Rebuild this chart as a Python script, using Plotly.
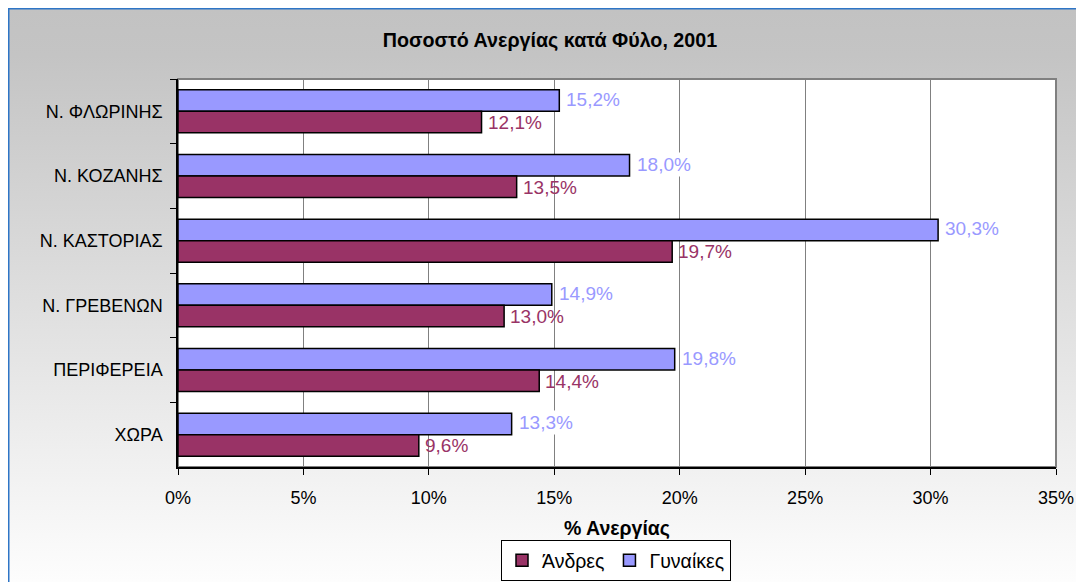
import base64
import plotly.graph_objects as go

# ---- data ----
categories = ["Ν. ΦΛΩΡΙΝΗΣ", "Ν. ΚΟΖΑΝΗΣ", "Ν. ΚΑΣΤΟΡΙΑΣ", "Ν. ΓΡΕΒΕΝΩΝ", "ΠΕΡΙΦΕΡΕΙΑ", "ΧΩΡΑ"]
women = [15.2, 18.0, 30.3, 14.9, 19.8, 13.3]
men = [12.1, 13.5, 19.7, 13.0, 14.4, 9.6]
x_ticks = [0, 5, 10, 15, 20, 25, 30, 35]
x_tick_labels = [f"{v}%" for v in x_ticks]

title_text = "Ποσοστό Ανεργίας κατά Φύλο, 2001"
x_title = "% Ανεργίας"
men_name = "Άνδρες"
women_name = "Γυναίκες"

# ---- style ----
OFF = 8  # page body margin
W, H = 1084 - OFF, 582 - OFF
# plot area in figure pixels (page pixels minus body offset)
L, R, T, B = 178 - OFF, 1056 - OFF, 79 - OFF, 467 - OFF
FONT = "Liberation Sans, Arial, sans-serif"
C_WOMEN = "#9999FF"
C_MEN = "#993366"


def px_x(p):
    return (p - OFF - L) / (R - L)


def px_y(p):
    return (B - (p - OFF)) / (B - T)


def fmt(v):
    return f"{v:.1f}".replace(".", ",") + "%"


fig = go.Figure()
fig.add_trace(go.Bar(
    y=categories, x=women, orientation="h", name=women_name,
    marker=dict(color=C_WOMEN, line=dict(color="black", width=1.5)),
    legendrank=2, hoverinfo="skip",
))
fig.add_trace(go.Bar(
    y=categories, x=men, orientation="h", name=men_name,
    marker=dict(color=C_MEN, line=dict(color="black", width=1.5)),
    legendrank=1, hoverinfo="skip",
))

annotations = []
for c, v in zip(categories, men):
    annotations.append(dict(
        x=v, y=c, xref="x", yref="y", text=fmt(v), showarrow=False,
        xanchor="left", yanchor="middle", xshift=5, yshift=-11,
        font=dict(family=FONT, size=19, color=C_MEN), borderpad=0,
    ))
for c, v in zip(categories, women):
    annotations.append(dict(
        x=v, y=c, xref="x", yref="y", text=fmt(v), showarrow=False,
        xanchor="left", yanchor="middle", xshift=5, yshift=12,
        font=dict(family=FONT, size=19, color=C_WOMEN), bgcolor="white", borderpad=1,
    ))
annotations.append(dict(
    x=0.5, y=px_y(528), xref="paper", yref="paper", text=f"<b>{x_title}</b>",
    showarrow=False, xanchor="center", yanchor="middle",
    font=dict(family=FONT, size=19.5, color="black"),
))

svg = ('<svg xmlns="http://www.w3.org/2000/svg" width="100" height="100" viewBox="0 0 100 100" '
       'preserveAspectRatio="none"><defs><linearGradient id="g" x1="0" y1="0" x2="0" y2="1">'
       '<stop offset="0" stop-color="#C2C2C2"/><stop offset="0.08" stop-color="#C4C4C4"/>'
       '<stop offset="1" stop-color="#FFFFFF"/></linearGradient></defs>'
       '<rect width="100" height="100" fill="url(#g)"/></svg>')
src = "data:image/svg+xml;base64," + base64.b64encode(svg.encode()).decode()

fig.update_layout(
    width=W, height=H,
    margin=dict(l=L, r=W - R, t=T, b=H - B, pad=0, autoexpand=False),
    paper_bgcolor="white", plot_bgcolor="white",
    font=dict(family=FONT, size=18, color="black"),
    barmode="group", bargap=0.335, bargroupgap=0,
    title=dict(text=f"<b>{title_text}</b>", xref="container", yref="container",
               x=(550 - OFF) / W, y=1 - (40 - OFF) / H, xanchor="center", yanchor="middle",
               font=dict(family=FONT, size=19.7, color="black")),
    xaxis=dict(range=[0, 35], tickvals=x_ticks, ticktext=x_tick_labels,
               showgrid=True, gridcolor="#808080", gridwidth=1,
               showline=True, linecolor="black", linewidth=1.5,
               ticks="outside", ticklen=6, tickcolor="black", tickwidth=1,
               zeroline=False, tickfont=dict(size=18), ticklabelstandoff=8,
               fixedrange=True),
    yaxis=dict(autorange="reversed", showgrid=False,
               showline=True, linecolor="black", linewidth=1.5,
               ticks="outside", tickson="boundaries", ticklen=6, tickcolor="black",
               tickfont=dict(size=18), ticklabelstandoff=10, fixedrange=True),
    showlegend=True,
    legend=dict(orientation="h", xref="container", yref="container",
                x=(616 - OFF) / W, xanchor="center", y=1 - (540 - OFF) / H, yanchor="top",
                bgcolor="white", bordercolor="black", borderwidth=1,
                font=dict(family=FONT, size=19.5), itemwidth=30, traceorder="normal"),
    annotations=annotations,
    images=[dict(source=src, xref="paper", yref="paper",
                 x=px_x(8), y=px_y(8), sizex=(1100 - 8) / (R - L), sizey=(600 - 8) / (B - T),
                 xanchor="left", yanchor="top", sizing="stretch", layer="below")],
    shapes=[
        dict(type="rect", xref="paper", yref="paper",
             x0=px_x(8.5), x1=px_x(1100), y0=px_y(600), y1=px_y(8.5),
             line=dict(color="#2E75C6", width=2), fillcolor="rgba(0,0,0,0)", layer="below"),
        dict(type="rect", xref="x domain", yref="y domain", x0=0, x1=1, y0=0, y1=1,
             line=dict(color="#808080", width=2), fillcolor="white", layer="below"),
    ],
)

fig.write_html("out.html")
